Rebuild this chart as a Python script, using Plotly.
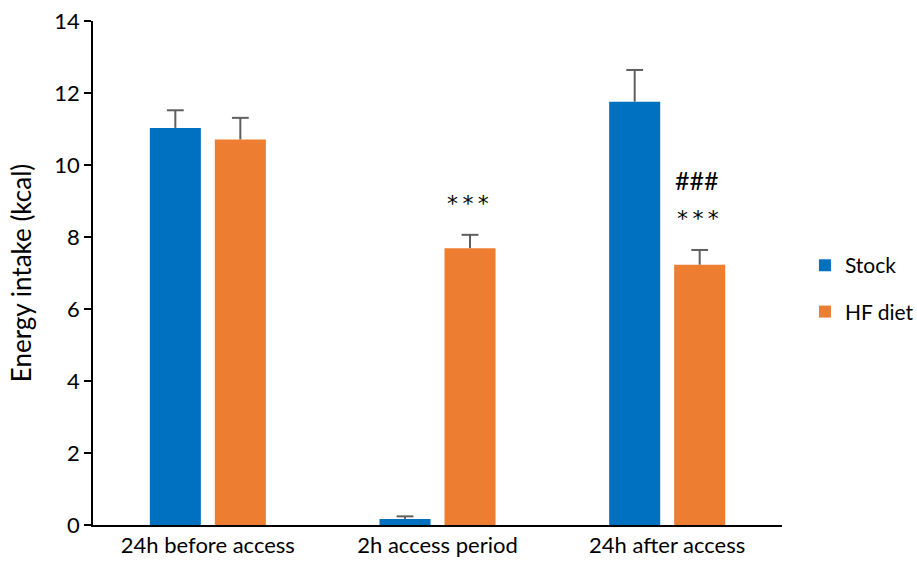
import plotly.graph_objects as go

# Energy intake per period
categories = ["24h before access", "2h access period", "24h after access"]
stock_mean = [11.03, 0.17, 11.76]
stock_err = [0.49, 0.07, 0.88]
hf_mean = [10.71, 7.69, 7.23]
hf_err = [0.60, 0.37, 0.41]

# significance markers above the HF diet bars
hf_marks = ["", "*\u2009*\u2009*", "*\u2009*\u2009*"]
hf_marks2 = ["", "", "###"]

BLUE = "#0070C0"
ORANGE = "#ED7D31"
ERR = "#5F5F5F"
FONT = "Lato"

bargap = 0.434
bargroupgap = 0.215
slot = (1 - bargap) / 2
idx = list(range(len(categories)))

fig = go.Figure()
fig.add_trace(go.Bar(x=idx, y=stock_mean, name="Stock", marker_color=BLUE,
                     marker_line_width=0, legendgroup="a"))
fig.add_trace(go.Bar(x=idx, y=hf_mean, name="HF diet", marker_color=ORANGE,
                     marker_line_width=0, legendgroup="b"))


def err_traces(means, errs, shift):
    xs, ys, cx, cy = [], [], [], []
    for i, m, e in zip(idx, means, errs):
        x = i + shift
        xs += [x, x, None]
        ys += [m, m + e, None]
        cx.append(x)
        cy.append(m + e)
    fig.add_trace(go.Scatter(x=xs, y=ys, mode="lines", showlegend=False,
                             line=dict(color=ERR, width=2), hoverinfo="skip"))
    fig.add_trace(go.Scatter(x=cx, y=cy, mode="markers", showlegend=False,
                             marker=dict(symbol="line-ew", size=12,
                                         line=dict(color=ERR, width=2)),
                             hoverinfo="skip"))


err_traces(stock_mean, stock_err, -slot / 2)
err_traces(hf_mean, hf_err, slot / 2)

for i, m, e, t1, t2 in zip(idx, hf_mean, hf_err, hf_marks, hf_marks2):
    if t1:
        fig.add_annotation(x=i + slot / 2, y=m + e, yshift=31, xshift=-2, text=t1,
                           showarrow=False,
                           font=dict(family="DejaVu Sans", size=22, color="black"))
    if t2:
        fig.add_annotation(x=i + slot / 2, y=m + e, yshift=70, xshift=-3, text=t2,
                           showarrow=False, font=dict(family=FONT, size=25, color="black"))

fig.update_layout(
    width=917, height=572,
    margin=dict(l=93, r=0, t=21, b=47, autoexpand=False),
    paper_bgcolor="white", plot_bgcolor="white",
    barmode="group", bargap=bargap, bargroupgap=bargroupgap,
    font=dict(family=FONT, size=22, color="black"),
    showlegend=True,
    legend=dict(x=0.864, y=0.469, xanchor="left", yanchor="middle",
                font=dict(family=FONT, size=21, color="black"),
                tracegroupgap=16, traceorder="grouped"),
    xaxis=dict(domain=[0, 0.8362], range=[-0.5, 2.5], tickvals=idx,
               ticktext=categories,
               showline=True, linecolor="black", linewidth=1.5,
               showgrid=False, zeroline=False, ticks="",
               tickfont=dict(family=FONT, size=22)),
    yaxis=dict(range=[0, 14], dtick=2, showline=True, linecolor="black",
               linewidth=1.5, showgrid=False, zeroline=False,
               ticks="outside", ticklen=7, tickwidth=1.5, tickcolor="black",
               tickfont=dict(family=FONT, size=22),
               title=dict(text="Energy intake (kcal)", font=dict(family=FONT, size=26),
                          standoff=15)),
)

fig.write_html("out.html")
